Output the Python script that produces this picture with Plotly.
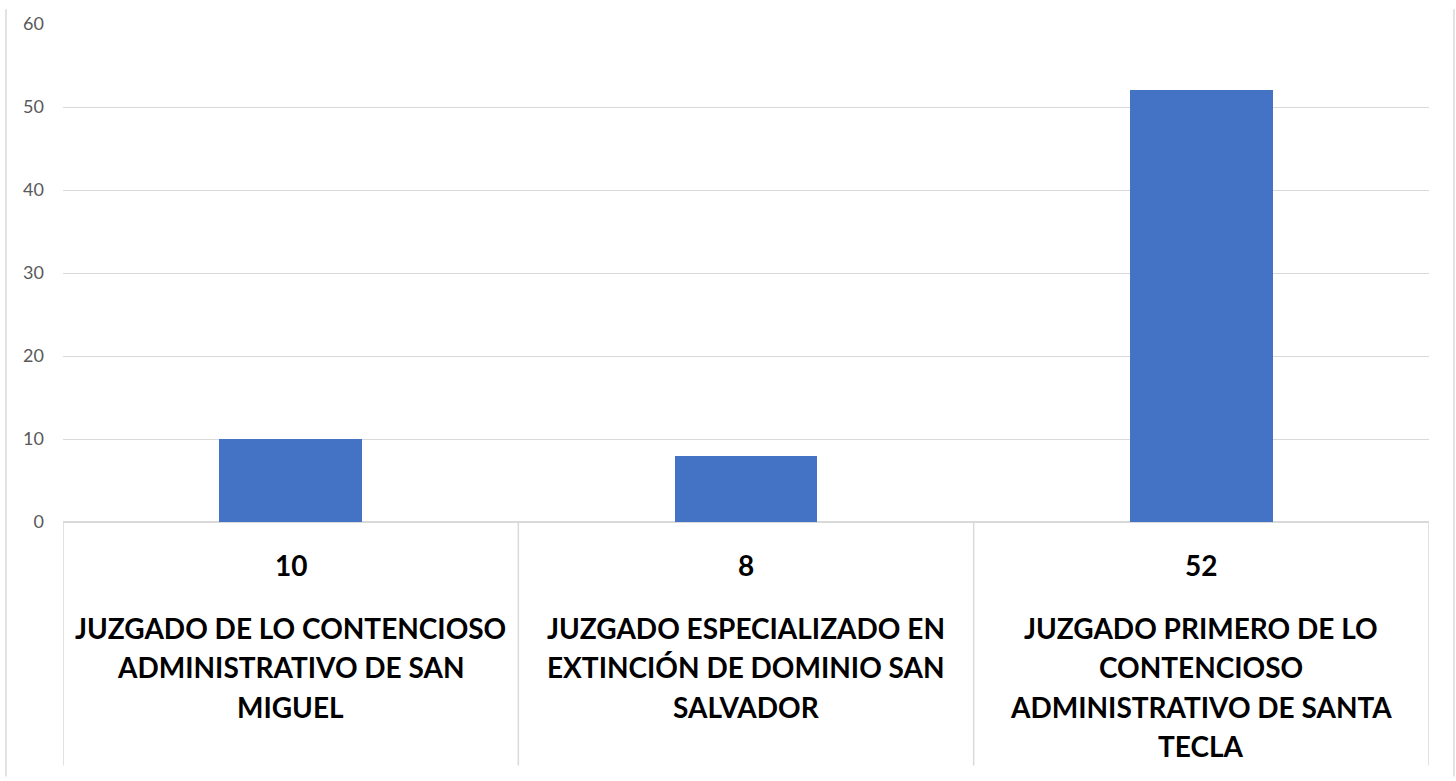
import plotly.graph_objects as go

# Data
categories = [
    "JUZGADO DE LO CONTENCIOSO ADMINISTRATIVO DE SAN MIGUEL",
    "JUZGADO ESPECIALIZADO EN EXTINCIÓN DE DOMINIO SAN SALVADOR",
    "JUZGADO PRIMERO DE LO CONTENCIOSO ADMINISTRATIVO DE SANTA TECLA",
]
# how each category label wraps in the table under the chart
category_lines = [
    ["JUZGADO DE LO CONTENCIOSO", "ADMINISTRATIVO DE SAN", "MIGUEL"],
    ["JUZGADO ESPECIALIZADO EN", "EXTINCIÓN DE DOMINIO SAN", "SALVADOR"],
    ["JUZGADO PRIMERO DE LO", "CONTENCIOSO", "ADMINISTRATIVO DE SANTA", "TECLA"],
]
values = [10, 8, 52]
y_ticks = [0, 10, 20, 30, 40, 50, 60]

W, H = 1456, 781
ml, mr, mt, mb = 63, 27, 15, 259
plot_h = H - mt - mb
grid = "#D9D9D9"
bar_color = "#4472C4"
font_family = "Lato, 'Open Sans', sans-serif"


def py(px_y):
    # pixel row -> paper y
    return (H - mb - px_y) / plot_h


fig = go.Figure()
fig.add_trace(go.Bar(
    x=list(range(len(categories))),
    y=values,
    width=0.314,
    marker=dict(color=bar_color, line=dict(width=0)),
    hovertext=categories,
    showlegend=False,
))

annotations = []
shapes = []
for i, (v, lines) in enumerate(zip(values, category_lines)):
    annotations.append(dict(
        x=i, xref="x", y=py(566), yref="paper", text=str(v), showarrow=False,
        xanchor="center", yanchor="middle",
        font=dict(family=font_family, size=28, color="#000000", weight="bold"),
    ))
    for j, line in enumerate(lines):
        annotations.append(dict(
            x=i, xref="x", y=py(630 + 40 * j), yref="paper", text=line, showarrow=False,
            xanchor="center", yanchor="middle",
            font=dict(family=font_family, size=28, color="#000000", weight="bold"),
        ))

# table separators under the axis
for k in range(len(categories) + 1):
    shapes.append(dict(
        type="line", xref="x", yref="paper", x0=k - 0.5, x1=k - 0.5,
        y0=0, y1=py(770), line=dict(color=grid, width=1.5), layer="below",
    ))

# chart border
for xp in [(6 - ml) / (W - ml - mr), (1454 - ml) / (W - ml - mr)]:
    shapes.append(dict(
        type="line", xref="paper", yref="paper", x0=xp, x1=xp,
        y0=py(781), y1=py(0), line=dict(color=grid, width=1.5),
    ))

fig.update_layout(
    width=W, height=H,
    margin=dict(l=ml, r=mr, t=mt, b=mb),
    paper_bgcolor="white", plot_bgcolor="white",
    bargap=0,
    xaxis=dict(
        range=[-0.5, 2.5], showticklabels=False, showgrid=False,
        zeroline=False, showline=False, ticks="", fixedrange=True,
    ),
    yaxis=dict(
        range=[0, 60], tickvals=y_ticks, showgrid=True, gridcolor=grid, gridwidth=1.2,
        zeroline=True, zerolinecolor=grid, zerolinewidth=1.5, showline=False,
        ticks="", ticklabelstandoff=18,
        tickfont=dict(family=font_family, size=18, color="#595959"),
    ),
    annotations=annotations,
    shapes=shapes,
    font=dict(family=font_family),
)

fig.write_html(
    "out.html",
    config={"displayModeBar": False},
    post_script="document.body.style.margin='0';document.body.style.overflow='hidden';",
)
